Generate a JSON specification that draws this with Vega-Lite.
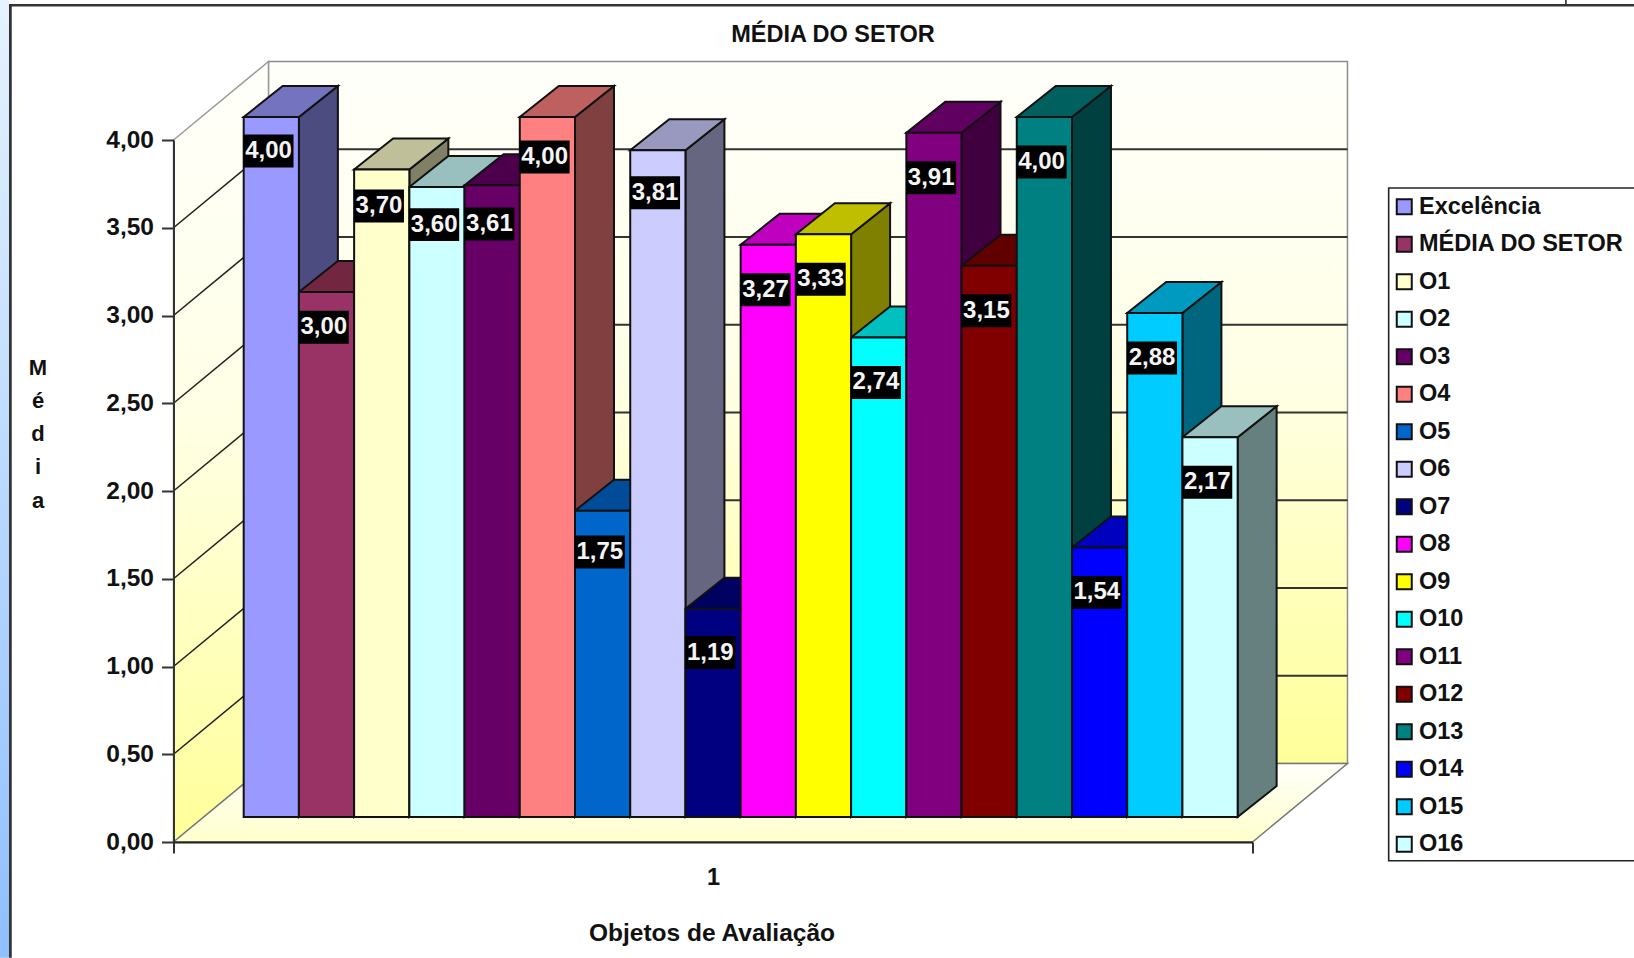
{
"$schema":"https://vega.github.io/schema/vega-lite/v6.json",
"width":1079,"height":702,
"autosize":"none",
"padding":{"left":173.5,"top":140,"right":381.5,"bottom":116},
"background":"white",
"view":{"stroke":null},
"title":{"text":"MÉDIA DO SETOR","font":"Liberation Sans","fontSize":23.5,"fontWeight":"bold","color":"#111","frame":"group","anchor":"middle","dx":120,"offset":-47},
"resolve":{"axis":{"x":"independent","y":"independent"}},
"layer":[
{"data":{"values":[{"a":-4.413,"b":-4.25,"c":-0.66,"d":4.8}]},
 "mark":{"type":"rect","fill":{"gradient":"linear","x1":0,"y1":0,"x2":0,"y2":1,"stops":[{"offset":0,"color":"#E6F3FF"},{"offset":1,"color":"#8FBFFF"}]}},
 "encoding":{"x":{"field":"a","type":"quantitative","scale":{"domain":[-1.271,18.269],"nice":false,"zero":false},
   "axis":{"values":[-1.271,8.499,18.269],"labelExpr":"datum.value > 8 && datum.value < 9 ? '1' : ''","grid":false,"zindex":1,"domainColor":"#222222","domainWidth":2,"tickColor":"#333333","tickWidth":2,"tickSize":11,"tickOpacity":{"condition":{"test":"datum.value > 8 && datum.value < 9","value":0},"value":1},"labelPadding":12,"labelFlush":false,"labelOverlap":false,"labelFont":"Liberation Sans","labelFontSize":23.5,"labelFontWeight":"bold","labelColor":"#111",
    "title":"Objetos de Avaliação","titleFont":"Liberation Sans","titleFontSize":24.5,"titleFontWeight":"bold","titleColor":"#111","titleX":538,"titleY":79}},
  "x2":{"field":"b"},
  "y":{"field":"c","type":"quantitative","scale":{"domain":[0,4],"nice":false,"zero":false},
   "axis":{"values":[0,0.5,1,1.5,2,2.5,3,3.5,4],"labelExpr":"replace(format(datum.value,'.2f'),'.',',')","grid":false,"zindex":1,"domainColor":"#333333","domainWidth":2,"tickColor":"#333333","tickWidth":2,"tickSize":12,"labelPadding":8,"labelFont":"Liberation Sans","labelFontSize":24.5,"labelFontWeight":"bold","labelColor":"#111",
    "title":["M","é","d","i","a"],"titleFont":"Liberation Sans","titleFontSize":22,"titleFontWeight":"bold","titleColor":"#111","titleAngle":0,"titleAlign":"center","titleBaseline":"middle","titleX":-136,"titleY":227,"titleLineHeight":33.3}},
  "y2":{"field":"d"}}},
{"data":{"values":[{"a":-4.25,"b":-4.2,"c":-0.66,"d":4.77},{"a":-4.25,"b":26,"c":4.76,"d":4.775},{"a":23.93,"b":23.96,"c":4.775,"d":4.8}]},
 "mark":{"type":"rect","fill":"#333333"},
 "encoding":{"x":{"field":"a","type":"quantitative","axis":null,"scale":{"domain":[-1.271,18.269],"nice":false,"zero":false}},"x2":{"field":"b"},"y":{"field":"c","type":"quantitative","axis":null,"scale":{"domain":[0,4],"nice":false,"zero":false}},"y2":{"field":"d"}}},
{"data":{"values":[{"a":20.735,"b":26.4,"c":-0.1066,"d":3.7265}]},
 "mark":{"type":"rect","fill":"white","stroke":"#222222","strokeWidth":1.6},
 "encoding":{"x":{"field":"a","type":"quantitative","axis":null,"scale":{"domain":[-1.271,18.269],"nice":false,"zero":false}},"x2":{"field":"b"},"y":{"field":"c","type":"quantitative","axis":null,"scale":{"domain":[0,4],"nice":false,"zero":false}},"y2":{"field":"d"}}},
{"data":{"values":[{"a":0.449,"b":19.989,"c":0.4473,"d":4.4473}]},
 "mark":{"type":"rect","stroke":"#8c8c8c","strokeWidth":1.5,"fill":{"gradient":"linear","x1":0,"y1":0,"x2":0,"y2":1,"stops":[{"offset":0,"color":"#FFFFFB"},{"offset":0.45,"color":"#FFFFE6"},{"offset":1,"color":"#FFFF99"}]}},
 "encoding":{"x":{"field":"a","type":"quantitative","axis":null,"scale":{"domain":[-1.271,18.269],"nice":false,"zero":false}},"x2":{"field":"b"},"y":{"field":"c","type":"quantitative","axis":null,"scale":{"domain":[0,4],"nice":false,"zero":false}},"y2":{"field":"d"}}},
{"data":{"values":[{"x":-1.271,"lo":0,"hi":4},{"x":0.449,"lo":0.4473,"hi":4.4473}]},
 "mark":{"type":"area","orient":"vertical","stroke":"#9a9a9a","strokeWidth":1.5,"fill":{"gradient":"linear","x1":0,"y1":0,"x2":0,"y2":1,"stops":[{"offset":0,"color":"#FFFFFB"},{"offset":0.45,"color":"#FFFFE6"},{"offset":1,"color":"#FFFF99"}]}},
 "encoding":{"x":{"field":"x","type":"quantitative","axis":null,"scale":{"domain":[-1.271,18.269],"nice":false,"zero":false}},
  "y":{"field":"hi","type":"quantitative","stack":null,"axis":null,"scale":{"domain":[0,4],"nice":false,"zero":false}},
  "y2":{"field":"lo"}}},
{"data":{"values":[{"x":-1.271,"lo":0,"hi":0},{"x":0.449,"lo":0,"hi":0.4473},{"x":18.269,"lo":0,"hi":0.4473},{"x":19.989,"lo":0.4473,"hi":0.4473}]},
 "mark":{"type":"area","orient":"vertical","stroke":"#777777","strokeWidth":1.5,"fill":{"gradient":"linear","x1":0,"y1":0,"x2":0,"y2":1,"stops":[{"offset":0,"color":"#FFFFFB"},{"offset":1,"color":"#FFFFCC"}]}},
 "encoding":{"x":{"field":"x","type":"quantitative","axis":null,"scale":{"domain":[-1.271,18.269],"nice":false,"zero":false}},
  "y":{"field":"hi","type":"quantitative","stack":null,"axis":null,"scale":{"domain":[0,4],"nice":false,"zero":false}},"y2":{"field":"lo"}}},
{"data":{"values":[{"tick":0.5},{"tick":1},{"tick":1.5},{"tick":2},{"tick":2.5},{"tick":3},{"tick":3.5}]},
 "transform":[{"calculate":"datum.tick+0.4473","as":"back"},{"calculate":"-1.271","as":"a"},{"calculate":"0.449","as":"b"},{"calculate":"19.989","as":"c"}],
 "layer":[
  {"mark":{"type":"rule","stroke":"#222222","strokeWidth":1.6},
   "encoding":{"x":{"field":"a","type":"quantitative","axis":null,"scale":{"domain":[-1.271,18.269],"nice":false,"zero":false}},"x2":{"field":"b"},"y":{"field":"tick","type":"quantitative","axis":null,"scale":{"domain":[0,4],"nice":false,"zero":false}},"y2":{"field":"back"}}},
  {"mark":{"type":"rule","stroke":"#333333","strokeWidth":1.8},
   "encoding":{"x":{"field":"b","type":"quantitative","axis":null,"scale":{"domain":[-1.271,18.269],"nice":false,"zero":false}},"x2":{"field":"c"},"y":{"field":"back","type":"quantitative","axis":null,"scale":{"domain":[0,4],"nice":false,"zero":false}}}}
 ]},
{"data":{"values":[
 {"series":"Excelência","value":4.00},
 {"series":"MÉDIA DO SETOR","value":3.00},
 {"series":"O1","value":3.70},
 {"series":"O2","value":3.60},
 {"series":"O3","value":3.61},
 {"series":"O4","value":4.00},
 {"series":"O5","value":1.75},
 {"series":"O6","value":3.81},
 {"series":"O7","value":1.19},
 {"series":"O8","value":3.27},
 {"series":"O9","value":3.33},
 {"series":"O10","value":2.74},
 {"series":"O11","value":3.91},
 {"series":"O12","value":3.15},
 {"series":"O13","value":4.00},
 {"series":"O14","value":1.54},
 {"series":"O15","value":2.88},
 {"series":"O16","value":2.17}
 ]},
 "transform":[
  {"window":[{"op":"row_number","as":"n"}]},
  {"calculate":"datum.n-1","as":"i"},
  {"calculate":"datum.i+1","as":"i1"},
  {"calculate":"0.1425","as":"base"},
  {"calculate":"0.1425+0.9972*datum.value","as":"top"},
  {"calculate":"replace(format(datum.value,'.2f'),'.',',')","as":"label"},
  {"calculate":"datum.i+0.45","as":"lx"},
  {"calculate":"datum.lx-0.4525","as":"lx0"},
  {"calculate":"datum.lx+0.4525","as":"lx1"},
  {"calculate":"datum.top-(34+11*min(datum.i,9)/9)/175.5","as":"ly"},
  {"calculate":"datum.ly-0.094","as":"ly0"},
  {"calculate":"datum.ly+0.094","as":"ly1"}
 ],
 "resolve":{"scale":{"color":"independent"}},
 "layer":[
  {"transform":[{"calculate":"[0,1]","as":"c"},{"flatten":["c"]},
    {"calculate":"datum.i+1+datum.c*0.706","as":"sx"},
    {"calculate":"datum.base+datum.c*0.1766","as":"slo"},
    {"calculate":"datum.top+datum.c*0.1766","as":"shi"}],
   "mark":{"type":"area","orient":"vertical","stroke":"#111111","strokeWidth":2,"opacity":1},
   "encoding":{"x":{"field":"sx","type":"quantitative","axis":null,"scale":{"domain":[-1.271,18.269],"nice":false,"zero":false}},
    "y":{"field":"shi","type":"quantitative","stack":null,"axis":null,"scale":{"domain":[0,4],"nice":false,"zero":false}},"y2":{"field":"slo"},
    "color":{"field":"series","type":"nominal","legend":null,"sort":null,"scale":{"domain":["Excelência","MÉDIA DO SETOR","O1","O2","O3","O4","O5","O6","O7","O8","O9","O10","O11","O12","O13","O14","O15","O16"],"range":["#4C4C80","#4C1A33","#808066","#668080","#330033","#804040","#003366","#666680","#000040","#800080","#808000","#008080","#400040","#400000","#004040","#000080","#006680","#668080"]}}}},
  {"transform":[{"calculate":"[0,1,2,3]","as":"c"},{"flatten":["c"]},
    {"calculate":"datum.i+[0,0.706,1,1.706][datum.c]","as":"tx"},
    {"calculate":"datum.top+[0,0,0,0.1766][datum.c]","as":"tlo"},
    {"calculate":"datum.top+[0,0.1766,0.1766,0.1766][datum.c]","as":"thi"}],
   "mark":{"type":"area","orient":"vertical","stroke":"#111111","strokeWidth":2,"opacity":1},
   "encoding":{"x":{"field":"tx","type":"quantitative","axis":null,"scale":{"domain":[-1.271,18.269],"nice":false,"zero":false}},
    "y":{"field":"thi","type":"quantitative","stack":null,"axis":null,"scale":{"domain":[0,4],"nice":false,"zero":false}},"y2":{"field":"tlo"},
    "color":{"field":"series","type":"nominal","legend":null,"sort":null,"scale":{"domain":["Excelência","MÉDIA DO SETOR","O1","O2","O3","O4","O5","O6","O7","O8","O9","O10","O11","O12","O13","O14","O15","O16"],"range":["#7373BF","#732640","#BFBF99","#99BFBF","#4C004C","#BF6060","#004C99","#9999BF","#000060","#BF00BF","#BFBF00","#00BFBF","#600060","#600000","#006060","#0000BF","#0099BF","#99BFBF"]}}}},
  {"mark":{"type":"rect","stroke":"#111111","strokeWidth":2,"opacity":1},
   "encoding":{"x":{"field":"i","type":"quantitative","axis":null,"scale":{"domain":[-1.271,18.269],"nice":false,"zero":false}},"x2":{"field":"i1"},
    "y":{"field":"top","type":"quantitative","axis":null,"scale":{"domain":[0,4],"nice":false,"zero":false}},"y2":{"field":"base"},
    "color":{"field":"series","type":"nominal","sort":null,
     "scale":{"domain":["Excelência","MÉDIA DO SETOR","O1","O2","O3","O4","O5","O6","O7","O8","O9","O10","O11","O12","O13","O14","O15","O16"],"range":["#9999FF","#993366","#FFFFCC","#CCFFFF","#660066","#FF8080","#0066CC","#CCCCFF","#000080","#FF00FF","#FFFF00","#00FFFF","#800080","#800000","#008080","#0000FF","#00CCFF","#CCFFFF"]},
     "legend":{"title":null,"orient":"none","legendX":1219,"legendY":55,"direction":"vertical","columns":1,"padding":0,"symbolType":"square","symbolSize":225,"symbolStrokeColor":"#111111","symbolStrokeWidth":2,"symbolOpacity":1,"labelFont":"Liberation Sans","labelFontSize":23.5,"labelFontWeight":"bold","labelColor":"#111","labelOffset":3,"labelLimit":400,"rowPadding":12.5,"symbolLimit":30}}}},
  {"mark":{"type":"rect","fill":"#000000"},
   "encoding":{"x":{"field":"lx0","type":"quantitative","axis":null,"scale":{"domain":[-1.271,18.269],"nice":false,"zero":false}},"x2":{"field":"lx1"},
    "y":{"field":"ly0","type":"quantitative","axis":null,"scale":{"domain":[0,4],"nice":false,"zero":false}},"y2":{"field":"ly1"}}},
  {"mark":{"type":"text","font":"Liberation Sans","fontSize":24,"fontWeight":"bold","fill":"#F4F4F4","align":"center","baseline":"middle"},
   "encoding":{"x":{"field":"lx","type":"quantitative","axis":null,"scale":{"domain":[-1.271,18.269],"nice":false,"zero":false}},
    "y":{"field":"ly","type":"quantitative","axis":null,"scale":{"domain":[0,4],"nice":false,"zero":false}},
    "text":{"field":"label","type":"nominal"}}}
 ]}
]
}
